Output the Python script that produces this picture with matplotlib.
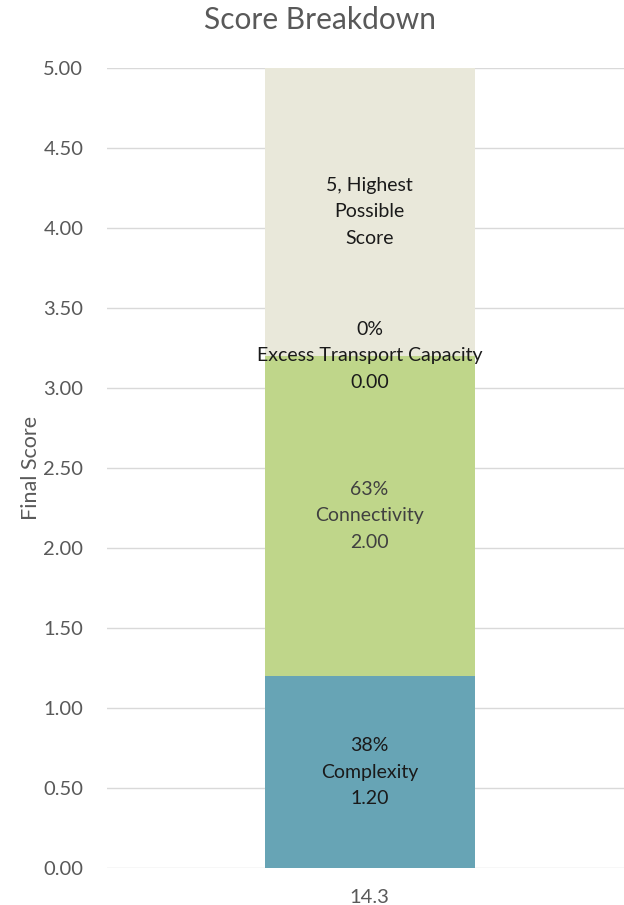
import matplotlib
matplotlib.use("Agg")
import matplotlib.pyplot as plt

# data
category = ["14.3"]
segments = ["Complexity", "Connectivity", "Excess Transport Capacity", "Highest Possible Score"]
values = [1.20, 2.00, 0.00, 1.80]
percents = ["38%", "63%", "0%", None]
max_score = 5
colors = ["#67A4B5", "#BFD68A", "#A9C4D4", "#E9E8DA"]
label_colors = ["#1a1a1a", "#404040", "#1a1a1a", "#1a1a1a"]

plt.rcParams["font.family"] = ["Lato", "DejaVu Sans"]

fig = plt.figure(figsize=(6.24, 9.05), dpi=100)
ax = fig.add_axes([107 / 624, 37 / 905, 525 / 624, 800 / 905])

bottom = 0
for name, val, pct, col, lc in zip(segments, values, percents, colors, label_colors):
    ax.bar(category, [val], bottom=bottom, width=0.4, color=col, zorder=2)
    y = bottom + val / 2
    if pct is None:
        txt = "%d, Highest\nPossible\nScore" % max_score
    else:
        txt = "%s\n%s\n%.2f" % (pct, name, val)
    ax.text(0, y, txt, ha="center", va="center", fontsize=14, color=lc,
            linespacing=1.65, zorder=3)
    bottom += val

ax.set_xlim(-0.5, 0.5)
ax.set_ylim(0, 5)
ax.set_yticks([i * 0.5 for i in range(11)])
ax.set_yticklabels(["%.2f" % (i * 0.5) for i in range(11)])
ax.yaxis.grid(True, color="#D9D9D9", linewidth=1.0, zorder=0)
ax.set_axisbelow(True)
for s in ax.spines.values():
    s.set_visible(False)
ax.tick_params(axis="both", length=0, colors="#595959", labelsize=14.5)
ax.tick_params(axis="y", pad=17)
ax.tick_params(axis="x", pad=15)
ax.set_ylabel("Final Score", fontsize=15.5, color="#595959", labelpad=2)

fig.text(320 / 624, 1 - 20 / 905, "Score Breakdown", ha="center", va="center",
         fontsize=21.5, color="#595959")

fig.savefig("out.png", dpi=100)
